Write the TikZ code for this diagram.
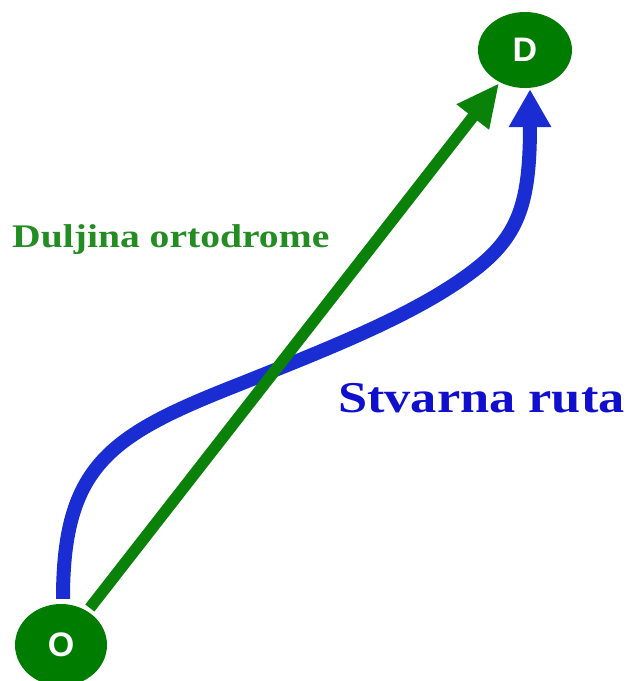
\documentclass[tikz,border=0pt]{standalone}
\usepackage{fontspec}
\setmainfont{Liberation Serif}
\newfontfamily\labelsans{Liberation Sans}
\usetikzlibrary{arrows.meta,shapes.geometric}
\definecolor{nodegreen}{RGB}{0,125,0}
\definecolor{linegreen}{RGB}{10,130,10}
\definecolor{textgreen}{RGB}{35,140,35}
\definecolor{routeblue}{RGB}{25,45,210}
\definecolor{textblue}{RGB}{15,15,205}
\tikzset{
  endpoint/.style={ellipse, fill=nodegreen, text=white, inner sep=0pt,
    font=\labelsans\bfseries\fontsize{34}{34}\selectfont},
  ortho/.style={draw=linegreen, line width=11.5pt,
    -{Triangle[length=43pt, width=38pt]}},
  route/.style={draw=routeblue, line width=14pt,
    -{Triangle[length=38pt, width=40pt]}},
  greenlabel/.style={anchor=base west, inner sep=0pt, text=textgreen,
    font=\bfseries\fontsize{33}{33}\selectfont},
  bluelabel/.style={anchor=base west, inner sep=0pt, text=textblue,
    font=\bfseries\fontsize{44}{44}\selectfont}
}
\begin{document}
\begin{tikzpicture}[x=1pt, y=-1pt]
\useasboundingbox (0,0) rectangle (630,681);
\clip (0,0) rectangle (630,681);
\node[endpoint, minimum width=94pt, minimum height=76pt] (D) at (525,50) {D};
\node[endpoint, minimum width=92pt, minimum height=82pt] (O) at (61,645) {O};
\coordinate (routeend) at ([xshift=5pt,yshift=-1pt]D.south);
\coordinate (routestart) at ([xshift=2pt,yshift=5pt]O.north);
\draw[route] (routestart) .. controls (63,465) and (110,435) .. (240,384)
  .. controls (330,348) and (420,313) .. (477,268)
  .. controls (520,234) and (530,200) .. (routeend);
\draw[ortho, shorten <=4pt, shorten >=1pt] (O) -- (D);
\node[greenlabel] (lenlabel) at (12,247) {\scalebox{1.2}[1]{Duljina ortodrome}};
\node[bluelabel] (routelabel) at (338,412) {\scalebox{1.19}[1]{Stvarna ruta}};
\end{tikzpicture}
\end{document}
